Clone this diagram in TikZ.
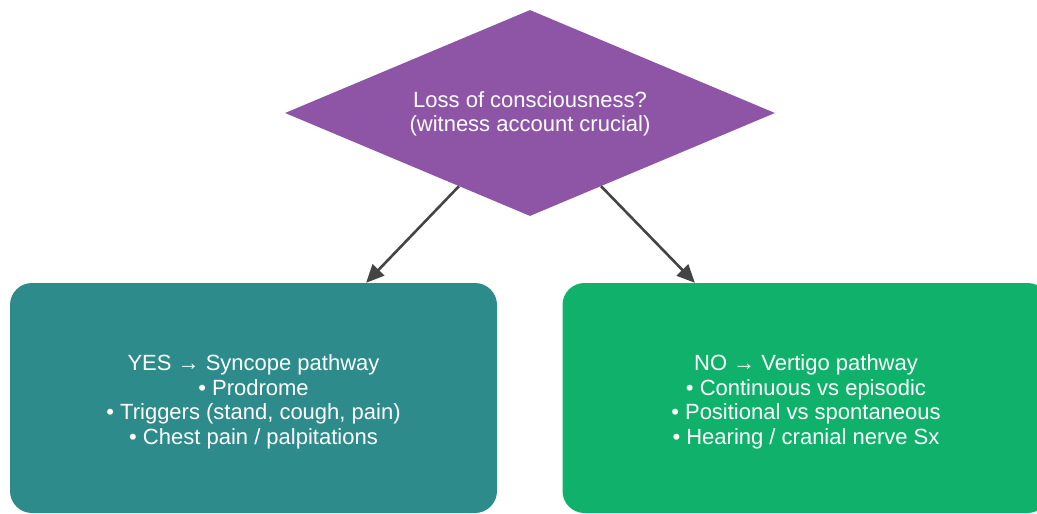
\documentclass[tikz,border=0pt]{standalone}
\usepackage{fontspec}
\setmainfont{Liberation Sans}
\usetikzlibrary{shapes.geometric,arrows.meta,calc}
\definecolor{qpurple}{HTML}{8E55A7}
\definecolor{yesteal}{HTML}{2E8B8C}
\definecolor{nogreen}{HTML}{10B26B}
\definecolor{edgegray}{HTML}{444444}
\tikzset{
  labeltext/.style={text=white, align=center,
    font=\fontsize{22}{24.5}\selectfont},
  question/.style={diamond, aspect=2.38, fill=qpurple, draw=none, inner sep=0pt,
    minimum width=490pt, minimum height=206pt},
  pathbox/.style={rectangle, rounded corners=22pt, draw=none, inner sep=0pt,
    minimum width=487pt, minimum height=230pt},
  link/.style={draw=edgegray, line width=2.6pt,
    -{Triangle[length=18pt,width=16pt]}}
}
\begin{document}
\begin{tikzpicture}[x=1pt,y=1pt]
  \useasboundingbox (0,0) rectangle (1037,-514);
  % decision diamond
  \node[question] (d) at (530,-113) {};
  \node[labeltext] (dtext) at ([yshift=-1pt]d.center)
    {Loss of consciousness?\\(witness account crucial)};
  % the two pathways
  \node[pathbox, fill=yesteal] (yes) at (253.5,-398) {};
  \node[labeltext] (yestext) at ([yshift=-4pt]yes.center)
    {YES → Syncope pathway\\• Prodrome\\• Triggers (stand, cough, pain)\\• Chest pain / palpitations};
  \node[pathbox, fill=nogreen] (no) at (806,-398) {};
  \node[labeltext] (notext) at ([yshift=-4pt]no.center)
    {NO → Vertigo pathway\\• Continuous vs episodic\\• Positional vs spontaneous\\• Hearing / cranial nerve Sx};
  % connectors
  \draw[link] ($(d.south west)!0.42!(d.south)$) -- ($(yes.north west)!0.731!(yes.north east)$);
  \draw[link] ($(d.south east)!0.42!(d.south)$) -- ($(no.north west)!0.272!(no.north east)$);
\end{tikzpicture}
\end{document}
